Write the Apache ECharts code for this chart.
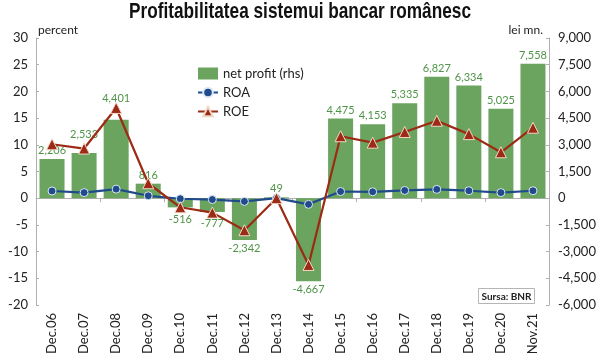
<!DOCTYPE html>
<html>
<head>
<meta charset="utf-8">
<script src="https://cdn.jsdelivr.net/npm/echarts@6/dist/echarts.min.js"></script>
<style>html,body{margin:0;padding:0;background:#fff}#c{width:600px;height:363px}</style>
</head>
<body>
<div id="c"></div>
<script>
var categories = ['Dec.06','Dec.07','Dec.08','Dec.09','Dec.10','Dec.11','Dec.12','Dec.13','Dec.14','Dec.15','Dec.16','Dec.17','Dec.18','Dec.19','Dec.20','Nov.21'];
var netProfit = [2206, 2533, 4401, 816, -516, -777, -2342, 49, -4667, 4475, 4153, 5335, 6827, 6334, 5025, 7558];
var roa = [1.35, 1.05, 1.7, 0.45, -0.1, -0.25, -0.6, 0.0, -1.15, 1.25, 1.2, 1.45, 1.65, 1.4, 1.05, 1.4];
var roe = [10.1, 9.3, 16.9, 2.8, -1.7, -2.7, -6.0, 0.0, -12.5, 11.6, 10.4, 12.4, 14.5, 12.0, 8.6, 13.2];
var leftTicks = {min: -20, max: 30, interval: 5};
var rightTicks = {min: -6000, max: 9000, interval: 1500};
var titleText = 'Profitabilitatea sistemui bancar românesc';

// label nudges (style only) so labels clear the ROE line, as in the original
var labelNudge = {'Dec.07': -10, 'Dec.08': -13, 'Dec.10': 4, 'Dec.11': 3};

var font = 'Lato, "Open Sans", sans-serif';
function fmt(v){ return v.toString().replace(/\B(?=(\d{3})+(?!\d))/g, ','); }
var barData = netProfit.map(function(v, i){
  var item = {value: v, label: {position: v < 0 ? 'bottom' : 'top'}};
  var n = labelNudge[categories[i]];
  if (n) item.label.offset = [0, n];
  return item;
});

var titleFont = 'bold 22px "Liberation Sans", Arial, sans-serif';
var cv = document.createElement('canvas').getContext('2d');
cv.font = titleFont;
var tw = cv.measureText(titleText).width;
var titleScale = 342 / tw;

var chart = echarts.init(document.getElementById('c'), null, {renderer: 'canvas'});
chart.setOption({
  animation: false,
  legend: {
    orient: 'vertical', left: 192, top: 62, itemGap: 6, itemWidth: 20, itemHeight: 12,
    textStyle: {fontFamily: font, fontSize: 13, color: '#222'},
    data: [
      {name: 'net profit (rhs)', icon: 'rect'},
      {name: 'ROA'},
      {name: 'ROE'}
    ]
  },
  grid: {left: 36, right: 51, top: 38, bottom: 58},
  xAxis: [
    {
      type: 'category', data: categories, position: 'bottom',
      axisLine: {show: false, onZero: false}, axisTick: {show: false},
      axisLabel: {rotate: 90, interval: 0, fontFamily: font, fontSize: 13, color: '#222', margin: 8}
    },
    {
      type: 'category', data: categories, position: 'top',
      axisLine: {show: true, onZero: true, onZeroAxisIndex: 0, lineStyle: {color: '#b0b0b0'}},
      axisTick: {show: true, inside: true, length: 4, lineStyle: {color: '#b0b0b0'}},
      axisLabel: {show: false}
    }
  ],
  yAxis: [
    {
      type: 'value', min: leftTicks.min, max: leftTicks.max, interval: leftTicks.interval,
      name: 'percent', nameLocation: 'end', nameGap: 2,
      nameTextStyle: {fontFamily: font, fontSize: 12, color: '#222', align: 'left', padding: [0, 0, 0, 2]},
      axisLine: {show: true, lineStyle: {color: '#b0b0b0'}},
      axisTick: {show: true, inside: true, length: 3, lineStyle: {color: '#b0b0b0'}},
      splitLine: {show: false},
      axisLabel: {fontFamily: font, fontSize: 13, color: '#222', margin: 8}
    },
    {
      type: 'value', min: rightTicks.min, max: rightTicks.max, interval: rightTicks.interval,
      name: 'lei mn.', nameLocation: 'end', nameGap: 2,
      nameTextStyle: {fontFamily: font, fontSize: 12, color: '#222', align: 'right', padding: [0, 6, 0, 0]},
      axisLine: {show: true, lineStyle: {color: '#b0b0b0'}},
      axisTick: {show: true, inside: true, length: 3, lineStyle: {color: '#b0b0b0'}},
      splitLine: {show: false},
      axisLabel: {fontFamily: font, fontSize: 13, color: '#222', margin: 9, formatter: function(v){ return fmt(v); }}
    }
  ],
  series: [
    {
      name: 'net profit (rhs)', type: 'bar', xAxisIndex: 0, yAxisIndex: 1,
      data: barData, barCategoryGap: '22%',
      itemStyle: {color: '#6aa45e'},
      label: {show: true, fontFamily: font, fontSize: 11, color: '#4f9448', distance: 3,
        formatter: function(p){ return fmt(p.value); }}
    },
    {
      name: 'ROA', type: 'line', xAxisIndex: 0, yAxisIndex: 0, data: roa,
      symbol: 'circle', symbolSize: 8,
      lineStyle: {color: '#1f4a8c', width: 2.2},
      itemStyle: {color: '#1f4a8c', borderColor: '#dfe8f5', borderWidth: 1}
    },
    {
      name: 'ROE', type: 'line', xAxisIndex: 0, yAxisIndex: 0, data: roe,
      symbol: 'triangle', symbolSize: 11,
      lineStyle: {color: '#9c2a14', width: 2.2},
      itemStyle: {color: '#9c2a14', borderColor: '#f0d8c8', borderWidth: 1}
    }
  ],
  graphic: [
    {
      type: 'text', x: 300, y: 12, scaleX: titleScale, originX: 0, originY: 0,
      style: {text: titleText, align: 'center', verticalAlign: 'middle', font: titleFont, fill: '#111'}
    },
    {
      type: 'group', left: 478, top: 288,
      children: [
        {type: 'rect', shape: {x: 0, y: 0, width: 56, height: 15}, style: {fill: '#fff', stroke: '#b5b5b5', lineWidth: 1}},
        {type: 'text', style: {x: 28, y: 8, text: 'Sursa: BNR', align: 'center', verticalAlign: 'middle', font: 'bold 10px ' + font, fill: '#222'}}
      ]
    }
  ]
});
</script>
</body>
</html>
